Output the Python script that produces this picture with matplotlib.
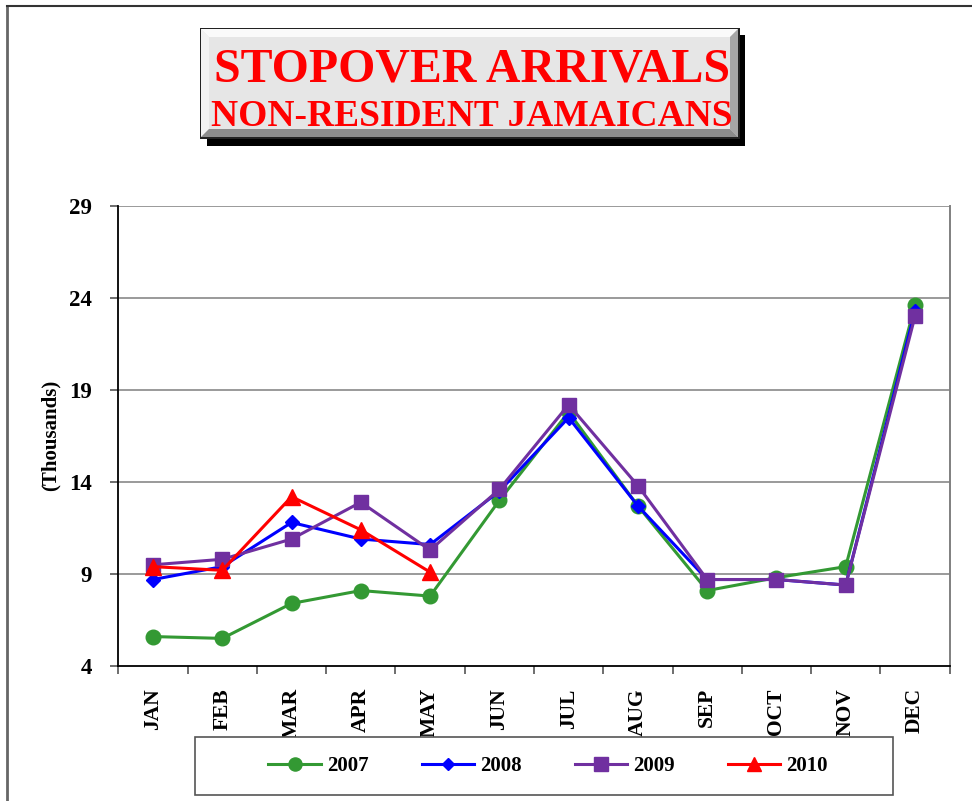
import matplotlib
matplotlib.use("Agg")
from matplotlib import pyplot as plt
import matplotlib.patches as mpatches
from matplotlib.lines import Line2D
import numpy as np

months = ['JAN', 'FEB', 'MAR', 'APR', 'MAY', 'JUN', 'JUL', 'AUG', 'SEP', 'OCT', 'NOV', 'DEC']

arr_2007 = [5.6, 5.5, 7.4, 8.1, 7.8, 13.0, 17.8, 12.7, 8.1, 8.8, 9.4, 23.6]
arr_2008 = [8.7, 9.4, 11.8, 10.9, 10.6, 13.5, 17.5, 12.7, 8.7, 8.7, 8.4, 23.3]
arr_2009 = [9.5, 9.8, 10.9, 12.9, 10.3, 13.6, 18.2, 13.8, 8.7, 8.7, 8.4, 23.0]
arr_2010 = [9.4, 9.2, 13.2, 11.4, 9.1]

yticks = [4, 9, 14, 19, 24, 29]

W, H = 972, 801
plt.rcParams['font.family'] = ['Liberation Serif', 'DejaVu Serif']
plt.rcParams['font.weight'] = 'bold'

fig = plt.figure(figsize=(W / 100, H / 100), dpi=100)

def fx(px):
    return px / W

def fy(py):
    return 1 - py / H

# plot area
ax = fig.add_axes([fx(118.4), fy(666), fx(949.6) - fx(118.4), fy(206) - fy(666)])

x = np.arange(len(months))
ax.plot(x, arr_2007, color='#339933', lw=2.2, marker='o', ms=10.5, label='2007', zorder=3)
ax.plot(x, arr_2008, color='#0000ff', lw=2.2, marker='D', ms=7, label='2008', zorder=4)
ax.plot(x, arr_2009, color='#7030a0', lw=2.2, marker='s', ms=10.5, label='2009', zorder=5)
ax.plot(x[:len(arr_2010)], arr_2010, color='#ff0000', lw=2.2, marker='^', ms=11, label='2010', zorder=6)

ax.set_xlim(-0.5, len(months) - 0.5)
ax.set_ylim(4, 29)
ax.set_yticks(yticks)
ax.set_yticklabels([str(v) for v in yticks], fontsize=16.5, fontweight='bold')
ax.set_xticks(x)
ax.set_xticklabels(months, rotation=90, fontsize=15.5, fontweight='bold', va='top')
ax.set_xticks(np.arange(-0.5, len(months)), minor=True)
ax.tick_params(axis='x', which='major', length=0, pad=16)
ax.tick_params(axis='x', which='minor', length=6, width=1.2, color='#555555', direction='out')
ax.tick_params(axis='y', length=6, width=1.2, color='#555555', direction='out', pad=13)

for v in yticks[1:]:
    ax.axhline(v, color='#9a9a9a', lw=1.4, zorder=1)

ax.spines['top'].set_visible(False)
ax.spines['right'].set_color('#808080')
ax.spines['right'].set_linewidth(1.4)
ax.spines['left'].set_linewidth(1.3)
ax.spines['bottom'].set_linewidth(1.3)

fig.text(fx(51), fy(435), '(Thousands)', rotation=90, ha='center', va='center',
         fontsize=15, fontweight='bold')

# outer frame (top and left edges)
fig.add_artist(Line2D([fx(7), fx(7)], [fy(6), 0], color='#666666', lw=2.0))
fig.add_artist(Line2D([fx(7), 1], [fy(6), fy(6)], color='#333333', lw=1.5))

# title box with shadow and bevel
x0, y0, x1, y1, b = 201, 29, 738, 137, 8
def poly(pts, color, z):
    p = mpatches.Polygon([(fx(a), fy(c)) for a, c in pts], closed=True,
                         transform=fig.transFigure, facecolor=color, edgecolor='none', zorder=z)
    fig.add_artist(p)

poly([(x0 + 6, y0 + 6), (x1 + 7, y0 + 6), (x1 + 7, y1 + 9), (x0 + 6, y1 + 9)], 'black', 1)
poly([(x0 - 1.5, y0 - 1.5), (x1 + 1.5, y0 - 1.5), (x1 + 1.5, y1 + 1.5), (x0 - 1.5, y1 + 1.5)], '#222222', 2)
poly([(x0, y0), (x1, y0), (x1, y1), (x0, y1)], '#e6e6e6', 3)
poly([(x0, y0), (x1, y0), (x1 - b, y0 + b), (x0 + b, y0 + b)], '#fafafa', 4)
poly([(x0, y0), (x0 + b, y0 + b), (x0 + b, y1 - b), (x0, y1)], '#f2f2f2', 4)
poly([(x1, y0), (x1, y1), (x1 - b, y1 - b), (x1 - b, y0 + b)], '#a6a6a6', 4)
poly([(x0, y1), (x1, y1), (x1 - b, y1 - b), (x0 + b, y1 - b)], '#8c8c8c', 4)

fig.text(fx(472), fy(82), 'STOPOVER ARRIVALS', ha='center', va='baseline',
         fontsize=34.5, fontweight='bold', color='#ff0000', zorder=6)
fig.text(fx(472), fy(126), 'NON-RESIDENT JAMAICANS', ha='center', va='baseline',
         fontsize=27, fontweight='bold', color='#ff0000', zorder=6)

# legend box
fig.add_artist(mpatches.Rectangle((fx(195), fy(795)), fx(893) - fx(195), fy(737) - fy(795),
                                  transform=fig.transFigure, facecolor='white',
                                  edgecolor='#555555', lw=1.2, zorder=5))
handles, labels = ax.get_legend_handles_labels()
leg = fig.legend(handles, labels, loc='center', bbox_to_anchor=(fx(548), fy(766)), ncol=4,
                 frameon=False, handlelength=2.5, handletextpad=0.3, columnspacing=2.55,
                 markerscale=0.9, prop={'family': 'Liberation Serif', 'weight': 'bold', 'size': 15})
leg.set_zorder(6)

fig.savefig('out.png', dpi=100)
